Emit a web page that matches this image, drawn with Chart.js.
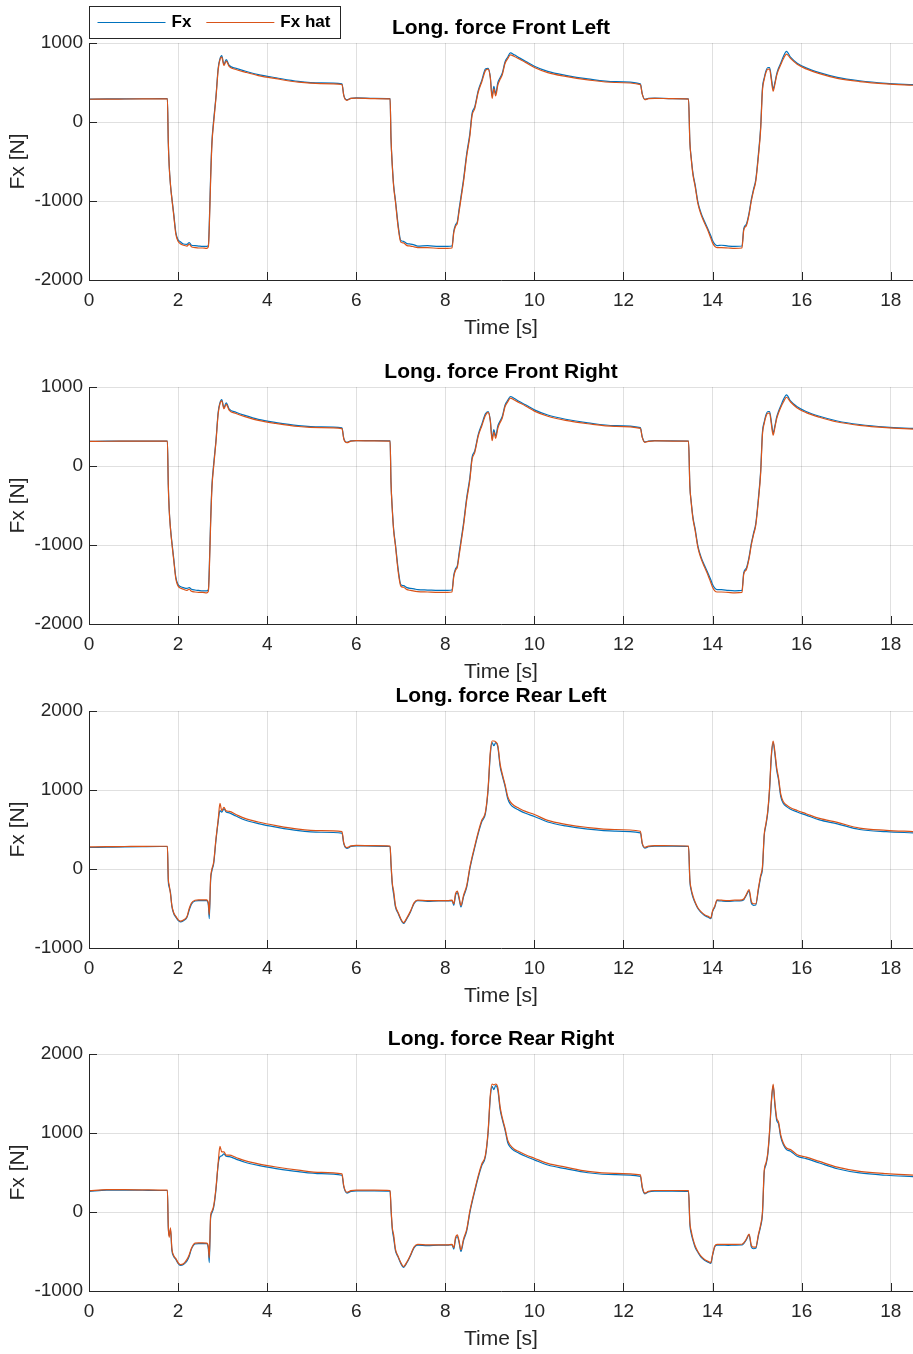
<!DOCTYPE html>
<html>
<head>
<meta charset="utf-8">
<script src="https://cdn.jsdelivr.net/npm/chart.js@4.4.1/dist/chart.umd.min.js"></script>
<style>
  html, body { margin: 0; padding: 0; background: #fff; overflow: hidden; }
  #page { position: relative; width: 913px; height: 1354px; }
  canvas { position: absolute; left: 0; }
</style>
</head>
<body>
<div id="page">
  <canvas id="fl" width="913" height="344" style="top:0px"></canvas>
  <canvas id="fr" width="913" height="344" style="top:344px"></canvas>
  <canvas id="rl" width="913" height="344" style="top:668px"></canvas>
  <canvas id="rr" width="913" height="344" style="top:1011px"></canvas>
</div>
<script>
// time base shared by all four wheels [s]
const time = [
  0, 0.4, 0.8, 1.2, 1.6, 1.76,
  1.78, 1.80, 1.83, 1.86, 1.90, 1.95, 2.00, 2.05, 2.12, 2.20, 2.25, 2.30, 2.38, 2.46, 2.55, 2.64, 2.68,
  2.70, 2.73, 2.76, 2.80, 2.85, 2.90, 2.94, 2.98, 3.03, 3.08, 3.15, 3.3, 3.5, 3.8, 4.2, 4.7, 5.2, 5.68,
  5.72, 5.79, 5.88, 6.0, 6.4, 6.76,
  6.78, 6.81, 6.84, 6.88, 6.94, 7.00, 7.06, 7.14, 7.22, 7.30, 7.38, 7.6, 7.85, 8.05, 8.15,
  8.19, 8.23, 8.27, 8.31, 8.35, 8.41, 8.48, 8.55, 8.60, 8.66, 8.74, 8.82, 8.90, 8.96, 9.01, 9.05, 9.09, 9.13, 9.18, 9.23, 9.28, 9.34, 9.40, 9.46,
  9.55, 9.65, 9.8, 10.0, 10.3, 10.7, 11.2, 11.8, 12.38,
  12.42, 12.48, 12.56, 12.7, 13.1, 13.46,
  13.49, 13.52, 13.56, 13.61, 13.67, 13.74, 13.82, 13.90, 13.96, 14.00, 14.05, 14.10, 14.2, 14.35, 14.5, 14.66,
  14.70, 14.76, 14.82, 14.87, 14.92, 14.97, 15.03, 15.08, 15.12, 15.16, 15.20, 15.24, 15.28, 15.32, 15.36, 15.40, 15.44, 15.48, 15.53, 15.59, 15.66,
  15.75, 15.9, 16.1, 16.4, 16.8, 17.3, 17.9, 18.5
];

// Front left
const flFx = [
  290, 292, 293, 294, 295, 295,
  -250, -550, -800, -960, -1150, -1400, -1490, -1515, -1545, -1550, -1525, -1560, -1565, -1570, -1575, -1575, -1560,
  -1300, -700, -250, 30, 320, 680, 800, 840, 730, 790, 715, 680, 645, 600, 560, 515, 495, 482,
  340, 280, 300, 305, 298, 295,
  -200, -550, -800, -990, -1300, -1500, -1510, -1540, -1545, -1555, -1570, -1565, -1575, -1575, -1570,
  -1380, -1300, -1260, -1100, -950, -720, -400, -150, 110, 190, 400, 530, 670, 680, 570, 330, 450, 360, 500, 560, 620, 760, 820, 875,
  850, 815, 770, 705, 640, 590, 545, 510, 482,
  360, 288, 298, 302, 297, 293,
  -250, -450, -650, -800, -1010, -1150, -1260, -1360, -1440, -1500, -1545, -1565, -1560, -1570, -1575, -1570,
  -1350, -1290, -1150, -980, -850, -730, -400, -60, 430, 560, 650, 690, 690, 560, 420, 500, 610, 680, 745, 830, 895,
  820, 745, 685, 625, 565, 522, 490, 472
];
const flHat = [
  288, 290, 291, 292, 293, 293,
  -250, -550, -800, -970, -1170, -1420, -1510, -1540, -1560, -1570, -1545, -1580, -1590, -1595, -1595, -1600, -1580,
  -1350, -750, -280, 0, 300, 660, 790, 820, 715, 770, 700, 665, 632, 588, 548, 505, 487, 475,
  335, 275, 298, 303, 296, 292,
  -200, -560, -820, -1010, -1330, -1520, -1530, -1565, -1570, -1580, -1590, -1590, -1600, -1600, -1595,
  -1400, -1320, -1280, -1130, -980, -750, -430, -180, 80, 170, 380, 510, 650, 670, 560, 300, 420, 330, 470, 540, 600, 740, 800, 850,
  830, 800, 755, 690, 625, 577, 533, 500, 474,
  355, 283, 295, 300, 295, 290,
  -250, -460, -670, -820, -1030, -1170, -1280, -1380, -1470, -1530, -1575, -1590, -1590, -1595, -1600, -1595,
  -1370, -1310, -1170, -1000, -870, -750, -430, -90, 400, 540, 630, 670, 670, 530, 390, 480, 590, 660, 725, 800, 860,
  805, 730, 672, 612, 553, 512, 482, 465
];

// Front right
const frFx = [
  312, 314, 315, 316, 316, 316,
  -230, -540, -790, -960, -1160, -1410, -1500, -1525, -1540, -1550, -1540, -1560, -1570, -1575, -1580, -1580, -1565,
  -1300, -700, -250, 30, 320, 680, 800, 840, 740, 800, 720, 680, 640, 590, 550, 512, 495, 482,
  350, 300, 318, 322, 320, 318,
  -200, -550, -800, -990, -1300, -1500, -1515, -1540, -1550, -1555, -1565, -1570, -1575, -1575, -1570,
  -1380, -1300, -1260, -1100, -950, -720, -400, -150, 110, 190, 400, 530, 660, 690, 580, 350, 460, 380, 510, 570, 630, 770, 830, 880,
  855, 820, 775, 710, 645, 592, 547, 512, 485,
  370, 305, 315, 320, 318, 316,
  -250, -450, -650, -800, -1010, -1150, -1260, -1360, -1440, -1500, -1545, -1565, -1565, -1575, -1580, -1575,
  -1350, -1290, -1150, -980, -850, -730, -400, -60, 430, 560, 650, 690, 690, 560, 420, 510, 620, 690, 760, 840, 900,
  825, 750, 690, 630, 570, 525, 493, 475
];
const frHat = [
  311, 313, 314, 315, 315, 315,
  -240, -550, -800, -975, -1180, -1430, -1520, -1545, -1560, -1575, -1560, -1585, -1595, -1600, -1600, -1605, -1585,
  -1350, -750, -280, 0, 300, 660, 790, 825, 725, 780, 705, 665, 625, 577, 538, 500, 485, 472,
  345, 295, 315, 320, 318, 316,
  -200, -560, -820, -1010, -1330, -1520, -1535, -1565, -1575, -1585, -1590, -1595, -1600, -1600, -1595,
  -1400, -1320, -1280, -1130, -980, -750, -430, -180, 80, 170, 380, 510, 640, 680, 570, 320, 430, 350, 480, 550, 610, 750, 810, 860,
  835, 805, 760, 695, 630, 578, 535, 502, 476,
  365, 300, 312, 318, 316, 314,
  -250, -460, -670, -820, -1030, -1170, -1280, -1385, -1475, -1535, -1580, -1595, -1595, -1600, -1605, -1600,
  -1370, -1310, -1170, -1000, -870, -750, -430, -90, 400, 540, 630, 670, 670, 530, 390, 490, 600, 670, 740, 810, 870,
  810, 735, 676, 617, 557, 515, 485, 468
];

// Rear left
const rlFx = [
  272, 276, 280, 283, 285, 285,
  -150, -230, -300, -470, -560, -610, -650, -670, -655, -610, -520, -445, -405, -400, -400, -400, -460,
  -630, -150, -20, 70, 360, 600, 740, 720, 760, 720, 710, 670, 620, 575, 530, 485, 465, 455,
  320, 260, 285, 292, 290, 285,
  60, -200, -320, -480, -560, -640, -690, -625, -540, -435, -400, -410, -405, -405, -400,
  -460, -330, -300, -380, -480, -350, -230, 0, 130, 270, 450, 600, 700, 1000, 1450, 1600, 1560, 1600, 1540, 1300, 1180, 1050, 890, 820,
  775, 745, 705, 665, 595, 545, 505, 480, 458,
  320, 265, 282, 290, 290, 285,
  -150, -270, -360, -430, -500, -550, -590, -610, -630, -540, -480, -400, -405, -410, -405, -400,
  -390, -330, -280, -430, -460, -455, -260, -100, 0, 420, 560, 720, 1000, 1420, 1600, 1450, 1250, 1130, 920, 830, 790,
  757, 722, 682, 622, 572, 500, 472, 458
];
const rlHat = [
  280, 283, 285, 287, 288, 288,
  -120, -200, -320, -460, -550, -600, -640, -660, -645, -600, -500, -430, -395, -390, -390, -390, -430,
  -580, -120, 0, 90, 380, 620, 830, 740, 780, 735, 730, 690, 640, 595, 550, 505, 485, 473,
  330, 270, 292, 298, 295, 290,
  80, -180, -280, -460, -550, -630, -680, -615, -530, -425, -395, -400, -400, -400, -395,
  -440, -310, -280, -360, -460, -330, -210, 20, 150, 290, 470, 620, 720, 1020, 1480, 1620, 1620, 1610, 1560, 1330, 1200, 1070, 920, 850,
  800, 770, 730, 690, 615, 565, 525, 500, 478,
  330, 275, 290, 296, 294, 290,
  -130, -250, -340, -420, -490, -540, -580, -600, -620, -530, -470, -390, -395, -400, -395, -390,
  -380, -320, -260, -410, -440, -440, -240, -80, 30, 440, 580, 740, 1030, 1450, 1620, 1480, 1280, 1160, 950, 850, 810,
  775, 740, 700, 640, 590, 518, 490, 473
];

// Rear right
const rrFx = [
  260, 278, 278, 275, 272, 272,
  -200, -300, -220, -480, -560, -600, -650, -675, -665, -620, -560, -470, -405, -400, -400, -400, -470,
  -640, -80, -10, 60, 280, 600, 700, 710, 735, 705, 700, 670, 630, 590, 550, 510, 485, 465,
  320, 240, 262, 268, 268, 265,
  40, -220, -330, -490, -570, -650, -700, -640, -550, -450, -420, -425, -420, -420, -415,
  -470, -340, -310, -390, -500, -360, -240, -10, 120, 260, 440, 590, 700, 1000, 1450, 1590, 1550, 1600, 1540, 1300, 1170, 1040, 880, 820,
  775, 745, 705, 660, 595, 548, 497, 472, 452,
  310, 230, 255, 265, 265, 262,
  -150, -270, -360, -450, -510, -570, -610, -635, -650, -550, -440, -420, -420, -422, -420, -418,
  -400, -350, -290, -440, -465, -460, -300, -180, -30, 500, 600, 730, 1000, 1380, 1600, 1350, 1160, 1120, 950, 850, 790,
  770, 705, 675, 620, 548, 495, 465, 448
];
const rrHat = [
  270, 282, 282, 280, 278, 278,
  -180, -320, -200, -460, -550, -590, -640, -665, -655, -600, -540, -460, -395, -392, -392, -395, -440,
  -580, -50, 10, 80, 300, 620, 830, 760, 760, 720, 720, 690, 650, 610, 570, 530, 502, 482,
  330, 250, 270, 276, 276, 272,
  60, -200, -290, -470, -560, -640, -690, -630, -540, -440, -410, -415, -415, -415, -410,
  -450, -320, -290, -370, -480, -340, -220, 10, 140, 280, 460, 610, 720, 1020, 1480, 1620, 1610, 1620, 1570, 1330, 1190, 1060, 910, 845,
  795, 765, 725, 680, 615, 568, 515, 490, 470,
  325, 240, 262, 272, 272, 270,
  -130, -240, -340, -430, -500, -560, -600, -625, -640, -540, -430, -410, -410, -410, -410, -408,
  -390, -340, -280, -420, -445, -445, -280, -160, 0, 530, 620, 750, 1030, 1410, 1620, 1380, 1190, 1140, 975, 870, 810,
  790, 725, 695, 640, 568, 515, 485, 468
];

const FONT = "'Liberation Sans', Arial, Helvetica, sans-serif";
const BLUE = '#0072BD';
const ORANGE = '#D95319';
const AXIS = '#262626';
const GRID = 'rgba(38,38,38,0.14)';
const TICK_LEN = 8;

// matlab style inward tick marks
const innerTicks = {
  id: 'innerTicks',
  afterDraw(chart) {
    const {ctx, chartArea, scales: {x, y}} = chart;
    ctx.save();
    ctx.strokeStyle = AXIS;
    ctx.lineWidth = 1;
    ctx.beginPath();
    x.ticks.forEach(t => {
      const px = Math.round(x.getPixelForValue(t.value)) + 0.5;
      ctx.moveTo(px, chartArea.bottom);
      ctx.lineTo(px, chartArea.bottom - TICK_LEN);
    });
    y.ticks.forEach(t => {
      const py = Math.round(y.getPixelForValue(t.value)) + 0.5;
      ctx.moveTo(chartArea.left, py);
      ctx.lineTo(chartArea.left + TICK_LEN, py);
    });
    ctx.stroke();
    ctx.restore();
  }
};

// boxed legend in the top left corner
const boxLegend = {
  id: 'boxLegend',
  afterDraw(chart) {
    const {ctx, chartArea} = chart;
    const left = Math.round(chartArea.left) + 0.5, top = 6.5, w = 251, h = 32;
    ctx.save();
    ctx.fillStyle = '#fff';
    ctx.fillRect(left, top, w, h);
    ctx.strokeStyle = AXIS;
    ctx.lineWidth = 1;
    ctx.strokeRect(left, top, w, h);
    ctx.font = 'bold 17px ' + FONT;
    ctx.textBaseline = 'middle';
    const cy = top + h / 2;
    let x = left + 8;
    chart.data.datasets.forEach(ds => {
      ctx.strokeStyle = ds.borderColor;
      ctx.lineWidth = 1.2;
      ctx.beginPath();
      ctx.moveTo(x, cy);
      ctx.lineTo(x + 68, cy);
      ctx.stroke();
      ctx.fillStyle = '#000';
      ctx.fillText(ds.label, x + 74, cy);
      x += 74 + ctx.measureText(ds.label).width + 15;
    });
    ctx.restore();
  }
};

function series(vals) {
  return time.map((t, i) => ({x: t, y: vals[i]}));
}

function makeChart(id, title, fx, hat, yMin, yMax, legend) {
  return new Chart(document.getElementById(id), {
    type: 'line',
    data: {
      datasets: [
        {label: 'Fx', data: series(fx), borderColor: BLUE, order: 1},
        {label: 'Fx hat', data: series(hat), borderColor: ORANGE, order: 0}
      ]
    },
    options: {
      responsive: false,
      animation: false,
      devicePixelRatio: 1,
      layout: {padding: 0},
      elements: {
        point: {radius: 0},
        line: {borderWidth: 1.2, cubicInterpolationMode: 'monotone', fill: false}
      },
      plugins: {
        legend: {display: false},
        tooltip: {enabled: false},
        title: {
          display: true, text: title, color: '#000', fullSize: false,
          font: {family: FONT, size: 21, weight: 'bold'},
          padding: {top: 15.4, bottom: 2.4}
        }
      },
      scales: {
        x: {
          type: 'linear', min: 0, max: 18.5,
          ticks: {stepSize: 2, includeBounds: false, color: AXIS, padding: 9, maxRotation: 0,
                  font: {family: FONT, size: 19}, callback: v => String(v)},
          grid: {color: GRID, drawTicks: false},
          border: {color: AXIS, z: 1},
          title: {display: true, text: 'Time [s]', color: AXIS,
                  font: {family: FONT, size: 21}, padding: {top: 0, bottom: 3.4}},
          afterFit(s) { s.height = 64; }
        },
        y: {
          min: yMin, max: yMax,
          ticks: {stepSize: 1000, color: AXIS, padding: 6,
                  font: {family: FONT, size: 19}, callback: v => String(v)},
          grid: {color: GRID, drawTicks: false},
          border: {color: AXIS, z: 1},
          title: {display: true, text: 'Fx [N]', color: AXIS,
                  font: {family: FONT, size: 21}, padding: {top: 5.4, bottom: 0}},
          afterFit(s) { s.width = 89; }
        }
      }
    },
    plugins: legend ? [innerTicks, boxLegend] : [innerTicks]
  });
}

makeChart('fl', 'Long. force Front Left', flFx, flHat, -2000, 1000, true);
makeChart('fr', 'Long. force Front Right', frFx, frHat, -2000, 1000, false);
makeChart('rl', 'Long. force Rear Left', rlFx, rlHat, -1000, 2000, false);
makeChart('rr', 'Long. force Rear Right', rrFx, rrHat, -1000, 2000, false);
</script>
</body>
</html>
